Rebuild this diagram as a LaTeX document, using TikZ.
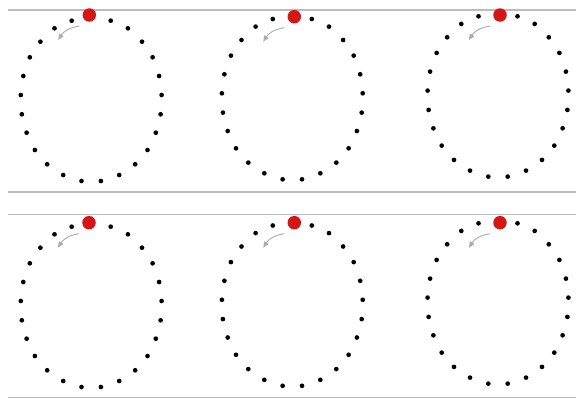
\documentclass[tikz,border=0pt]{standalone}
\usetikzlibrary{arrows.meta}
\definecolor{rulegray}{RGB}{188,188,188}
\definecolor{arrowgray}{RGB}{170,170,170}
\definecolor{reddot}{RGB}{212,22,22}
\tikzset{
  blackdot/.style={circle,fill=black,inner sep=0pt,minimum size=4.7pt},
  reddotstyle/.style={circle,fill=reddot,inner sep=0pt,minimum size=13.5pt},
  rulestyle/.style={draw=rulegray,line width=1.5pt},
  turnarrow/.style={draw=arrowgray,line width=0.9pt,-{Triangle[length=6pt,width=5pt]}},
}
\begin{document}
\begin{tikzpicture}[x=1pt,y=-1pt]
\useasboundingbox (0,0) rectangle (584,399);
\fill[white] (0,0) rectangle (584,399);
% rules
\foreach \n/\y in {r1/10,r2/192,r3/214.3,r4/397.6}{
  \coordinate (\n-w) at (8,\y);
  \coordinate (\n-e) at (576,\y);
  \draw[rulestyle] (\n-w) -- (\n-e);
}
% rings
\foreach \n/\cx/\yo/\rx/\ry in {
  a/91.2/0/89.3/15,
  b/292.3/-1.7/294.3/16.7,
  c/498/-4.4/500/15,
  d/91.2/206/89/222.7,
  e/292.3/204.8/294.3/222.7,
  f/498/202.6/500/222.7}{
  \foreach \k/\dx/\dy in {
    1/19.5/20.7, 2/36.7/28.3, 3/50.8/41.7, 4/61.4/57.3,
    5/67.9/76, 6/70.4/95, 7/69.4/114.3, 8/64.6/132.7,
    9/56.3/150, 10/44/164.3, 11/28/175, 12/9.7/181}{
    \node[blackdot] (\n-l\k) at (\cx-\dx,\dy+\yo) {};
    \node[blackdot] (\n-r\k) at (\cx+\dx,\dy+\yo) {};
  }
  \node[reddotstyle] (\n-red) at (\rx,\ry) {};
  \coordinate (\n-from) at (\rx-10,\ry+11);
  \coordinate (\n-to) at (\rx-31,\ry+25);
  \draw[turnarrow] (\n-from) to[bend right=25] (\n-to);
}
\end{tikzpicture}
\end{document}
